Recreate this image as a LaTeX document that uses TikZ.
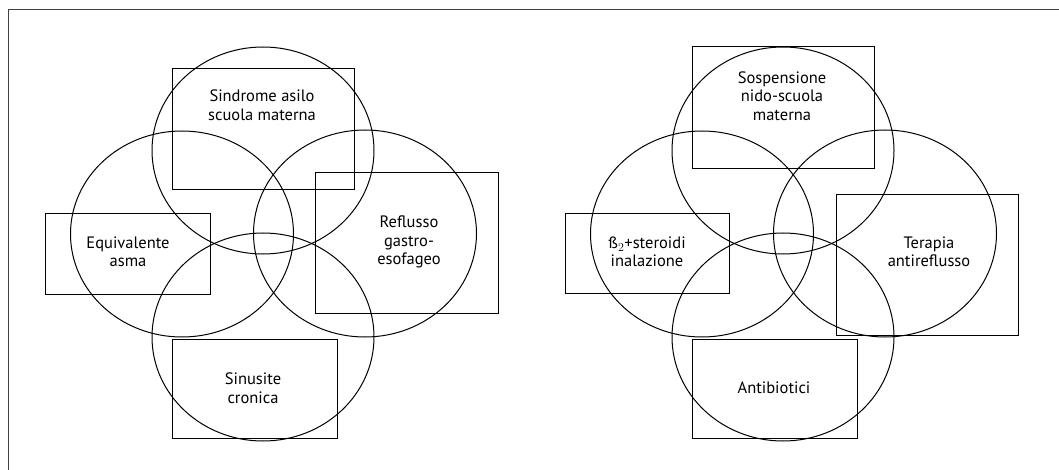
\documentclass[tikz,border=0pt]{standalone}
\usepackage{fontspec}
\setmainfont{PT Sans}
\begin{document}
\begin{tikzpicture}[x=1pt,y=-1pt,line width=1pt,
    lbl/.style={align=center,inner sep=0pt,font=\fontsize{16.5}{18.5}\selectfont}]
    \useasboundingbox (0,0) rectangle (1059,470);
    \draw[black!75, line width=1.3pt] (8.5,475) -- (8.5,9.5) -- (1065,9.5);
    %
    \foreach \dx in {0,520} {
        \draw (263+\dx,150.5) ellipse (111 and 103.5);
        \draw (182+\dx,234) ellipse (111.5 and 103);
        \draw (365+\dx,233.5) ellipse (111.5 and 103.5);
        \draw (263+\dx,337) ellipse (111 and 104);
    }
    %
    \draw (172,69) rectangle (354,190);
    \draw (45,214) rectangle (210,294);
    \draw (315,173) rectangle (498,313);
    \draw (172,339) rectangle (337,438);
    \node[lbl] (sindrome) at (262,105) {Sindrome asilo\\scuola materna};
    \node[lbl] (equivalente) at (128,252) {Equivalente\\asma};
    \node[lbl] (reflusso) at (409,242) {Reflusso\\gastro-\\esofageo};
    \node[lbl] (sinusite) at (253,388) {Sinusite\\cronica};
    %
    \draw (692,47) rectangle (874,169);
    \draw (565,214) rectangle (729,293);
    \draw (836,195) rectangle (1018,335);
    \draw (692,339) rectangle (857,438);
    \node[lbl] (sospensione) at (782,96) {Sospensione\\nido-scuola\\materna};
    \node[lbl] (steroidi) at (647,252) {ß$_2$+steroidi\\inalazione};
    \node[lbl] (terapia) at (929,252) {Terapia\\antireflusso};
    \node[lbl] (antibiotici) at (774,388) {Antibiotici};
\end{tikzpicture}
\end{document}
